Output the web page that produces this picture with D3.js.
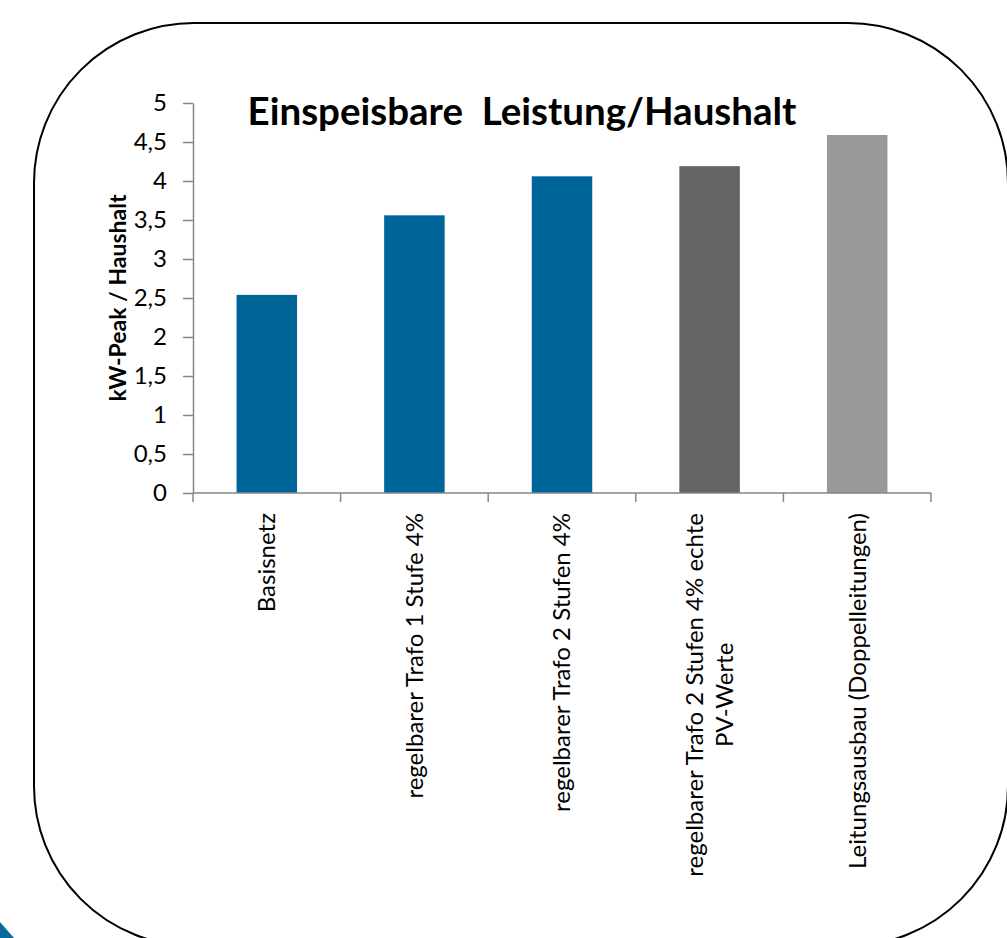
<!DOCTYPE html>
<html><head><meta charset="utf-8">
<script src="https://cdn.jsdelivr.net/npm/d3@7"></script>
<style>
html,body{margin:0;padding:0;background:#fff;}
svg{display:block;}
</style></head>
<body>
<svg id="chart" width="1007" height="938"></svg>
<script>
const categories = [
  ["Basisnetz"],
  ["regelbarer Trafo 1 Stufe 4%"],
  ["regelbarer Trafo 2 Stufen 4%"],
  ["regelbarer Trafo 2 Stufen 4% echte", "PV-Werte"],
  ["Leitungsausbau (Doppelleitungen)"]
];
const values = [2.54, 3.56, 4.06, 4.19, 4.59];
const barColors = ["#00669a", "#00669a", "#00669a", "#646464", "#999999"];
const yTicks = [0, 0.5, 1, 1.5, 2, 2.5, 3, 3.5, 4, 4.5, 5];
const title = "Einspeisbare\u00a0\u00a0Leistung/Haushalt";
const yTitle = "kW-Peak / Haushalt";

const svg = d3.select("#chart");
const font = "Lato, 'Open Sans', sans-serif";

// frame
svg.append("rect").attr("x", 34).attr("y", 23).attr("width", 974).attr("height", 923)
  .attr("rx", 160).attr("ry", 160).attr("fill", "none").attr("stroke", "#000").attr("stroke-width", 2);
// decoration in bottom-left corner
svg.append("path").attr("d", "M0,922 L14,938 L0,938 Z").attr("fill", "#0b6a9a");

const x = d3.scaleBand().domain(d3.range(categories.length)).range([193, 931]).paddingInner(0.59).paddingOuter(0.295);
const y = d3.scaleLinear().domain([0, 5]).range([493, 103]);
const loc = d3.formatLocale({decimal: ",", thousands: ".", grouping: [3], currency: ["", "€"]});
const fmt = loc.format("~g");

// bars
svg.append("g").selectAll("rect").data(values).join("rect")
  .attr("x", (d, i) => x(i)).attr("width", x.bandwidth())
  .attr("y", d => y(d)).attr("height", d => y(0) - y(d))
  .attr("fill", (d, i) => barColors[i]);

// y axis
const ya = svg.append("g").attr("transform", "translate(193,0)")
  .call(d3.axisLeft(y).tickValues(yTicks).tickFormat(fmt).tickSize(10).tickPadding(16).tickSizeOuter(0));
ya.select(".domain").attr("stroke", "#868686").attr("stroke-width", 1.5);
ya.selectAll(".tick line").attr("stroke", "#868686").attr("stroke-width", 1.5);
ya.selectAll(".tick text").attr("font-family", font).attr("font-size", 24).attr("fill", "#000");

// x axis
const xPos = d3.scaleLinear().domain([0, categories.length]).range([193, 931]);
const xg = svg.append("g");
xg.append("line").attr("x1", xPos(0)).attr("x2", xPos(categories.length)).attr("y1", y(0)).attr("y2", y(0))
  .attr("stroke", "#868686").attr("stroke-width", 1.5);
xg.selectAll("line.t").data(d3.range(categories.length + 1)).join("line").attr("class", "t")
  .attr("x1", d => xPos(d)).attr("x2", d => xPos(d)).attr("y1", y(0)).attr("y2", y(0) + 9)
  .attr("stroke", "#868686").attr("stroke-width", 1.5);

// x labels (rotated)
const lh = 30;
categories.forEach((lines, i) => {
  const cx = x(i) + x.bandwidth() / 2;
  const n = lines.length;
  const t = svg.append("text").attr("font-family", font).attr("font-size", 24).attr("fill", "#000")
    .attr("transform", `translate(${cx},513) rotate(-90)`);
  lines.forEach((ln, j) => {
    const dy = (j - (n - 1) / 2) * lh;
    t.append("tspan").attr("x", 0).attr("y", dy).attr("dy", "0.35em").text(ln);
  });
  const tsp = t.selectAll("tspan").nodes();
  const w0 = tsp[0].getComputedTextLength();
  tsp.forEach(node => {
    d3.select(node).attr("text-anchor", "middle").attr("x", -w0 / 2);
  });
});

// y title
svg.append("text").attr("font-family", font).attr("font-weight", "bold").attr("font-size", 23)
  .attr("text-anchor", "middle").attr("transform", "translate(126,298) rotate(-90)").text(yTitle);

// title
svg.append("text").attr("font-family", font).attr("font-weight", "bold").attr("font-size", 38.5)
  .attr("text-anchor", "middle").attr("x", 522).attr("y", 125).text(title);
</script>
</body></html>
